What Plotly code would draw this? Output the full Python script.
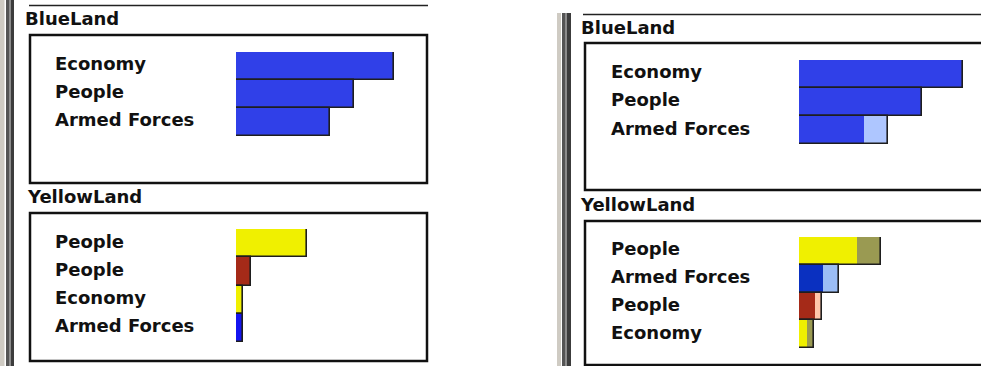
import plotly.graph_objects as go

# ---- data -------------------------------------------------------------
# Left window: single-segment bars
left_blue_labels = ["Economy", "People", "Armed Forces"]
left_blue_values = [79, 59, 47]

left_yellow_labels = ["People", "People", "Economy", "Armed Forces"]
left_yellow_values = [35.5, 7.5, 3.5, 3.5]

# Right window: each bar has a main part and an extra (lighter) part
right_blue_labels = ["Economy", "People", "Armed Forces"]
right_blue_main = [82, 61.5, 32.5]
right_blue_extra = [0, 0, 12]

right_yellow_labels = ["People", "Armed Forces", "People", "Economy"]
right_yellow_main = [29, 12, 8, 4]
right_yellow_extra = [12, 8, 3.5, 3.5]

# ---- styles -----------------------------------------------------------
W, H = 981, 366
BLUE = "#3040E8"
LIGHT_BLUE = "#AEC6FF"
YELLOW = "#F0F000"
OLIVE = "#9A9A52"
DARK_BLUE = "#0A30C0"
SKY = "#9BBDF5"
RED = "#A52A18"
PEACH = "#FFC6AA"
PURE_BLUE = "#1414F0"
OUTLINE = "#1E1E1E"
FONT = "DejaVu Sans"
PX_PER_UNIT = 2.0

left_blue_colors = [BLUE, BLUE, BLUE]
left_yellow_colors = [YELLOW, RED, YELLOW, PURE_BLUE]
right_blue_main_colors = [BLUE, BLUE, BLUE]
right_blue_extra_colors = [LIGHT_BLUE, LIGHT_BLUE, LIGHT_BLUE]
right_yellow_main_colors = [YELLOW, DARK_BLUE, RED, YELLOW]
right_yellow_extra_colors = [OLIVE, SKY, PEACH, OLIVE]


def px_x(x):
    return x / W


def px_y(y):
    return 1 - y / H


fig = go.Figure()

panels = [
    # (labels, main, extra, main colours, extra colours, bar left, axis right, top px, bottom px, label x)
    (left_blue_labels, left_blue_values, [0] * 3, left_blue_colors, left_blue_colors,
     236, 420, 52, 136, 53),
    (left_yellow_labels, left_yellow_values, [0] * 4, left_yellow_colors, left_yellow_colors,
     236, 420, 229, 342, 53),
    (right_blue_labels, right_blue_main, right_blue_extra, right_blue_main_colors,
     right_blue_extra_colors, 799, 975, 60, 144, 609),
    (right_yellow_labels, right_yellow_main, right_yellow_extra, right_yellow_main_colors,
     right_yellow_extra_colors, 799, 975, 237, 348, 609),
]

annotations = []
for i, (labels, main, extra, mcol, ecol, x0, x1, y0, y1, lx) in enumerate(panels):
    n = len(labels)
    rows = list(range(n))
    sfx = "" if i == 0 else str(i + 1)
    xa, ya = "x" + sfx, "y" + sfx
    totals = [m + e for m, e in zip(main, extra)]
    fig.add_trace(go.Bar(x=main, y=rows, base=[0] * n, orientation="h",
                         marker=dict(color=mcol, line=dict(width=0)),
                         xaxis=xa, yaxis=ya, width=1, showlegend=False))
    fig.add_trace(go.Bar(x=extra, y=rows, base=main, orientation="h",
                         marker=dict(color=ecol, line=dict(width=0)),
                         xaxis=xa, yaxis=ya, width=1, showlegend=False))
    fig.add_trace(go.Bar(x=totals, y=rows, base=[0] * n, orientation="h",
                         marker=dict(color="rgba(0,0,0,0)",
                                     line=dict(width=1.6, color=OUTLINE)),
                         xaxis=xa, yaxis=ya, width=1, showlegend=False))
    fig.update_layout({
        "xaxis" + sfx: dict(domain=[px_x(x0), px_x(x1)],
                            range=[0, (x1 - x0) / PX_PER_UNIT], visible=False,
                            fixedrange=True, anchor=ya),
        "yaxis" + sfx: dict(domain=[px_y(y1), px_y(y0)], range=[n - 0.5, -0.5],
                            visible=False, fixedrange=True, anchor=xa),
    })
    for r, lab in zip(rows, labels):
        annotations.append(dict(text="<b>" + lab + "</b>", xref="paper", x=px_x(lx),
                                xanchor="left", yref=ya, y=r, yanchor="middle",
                                yshift=2, showarrow=False,
                                font=dict(family=FONT, size=18, color="#111111")))

# panel titles
for text, tx, ty in [("BlueLand", 23, 19), ("YellowLand", 25, 196),
                     ("BlueLand", 579, 28), ("YellowLand", 578, 205)]:
    annotations.append(dict(text="<b>" + text + "</b>", xref="paper", yref="paper",
                            x=px_x(tx), y=px_y(ty), xanchor="left", yanchor="middle",
                            showarrow=False,
                            font=dict(family=FONT, size=18, color="#111111")))

shapes = []


def rect(x0, y0, x1, y1, **kw):
    shapes.append(dict(type="rect", xref="paper", yref="paper",
                       x0=px_x(x0), x1=px_x(x1), y0=px_y(y1), y1=px_y(y0), **kw))


def hline(x0, x1, y, width, color):
    shapes.append(dict(type="line", xref="paper", yref="paper",
                       x0=px_x(x0), x1=px_x(x1), y0=px_y(y), y1=px_y(y),
                       line=dict(color=color, width=width)))


# window frame stripes
for (a, b, c) in [(0, 4.5, "#CFCBC3"), (6, 9, "#555555"), (9, 11, "#8C8C8C"),
                  (11, 14, "#3C3C3C")]:
    rect(a, 0, b, H, fillcolor=c, line=dict(width=0), layer="below")
for (a, b, c) in [(557, 561, "#CFCBC3"), (562, 565, "#555555"), (565, 567, "#8C8C8C"),
                  (567, 571, "#3C3C3C")]:
    rect(a, 13, b, H, fillcolor=c, line=dict(width=0), layer="below")

# separator lines at the top of each window
hline(29, 428, 5.5, 1.5, "#222222")
hline(583, 985, 14.5, 1.5, "#222222")

# panel boxes
box = dict(line=dict(color="#111111", width=2.5), fillcolor="rgba(0,0,0,0)", layer="below")
rect(30, 35, 427, 183, **box)
rect(30, 213, 427, 361, **box)
rect(585, 43, 990, 190, **box)
rect(585, 221, 990, 365, **box)

fig.update_layout(width=W, height=H, margin=dict(l=0, r=0, t=0, b=0),
                  paper_bgcolor="white", plot_bgcolor="rgba(0,0,0,0)",
                  barmode="overlay", bargap=0, annotations=annotations, shapes=shapes,
                  showlegend=False)

fig.write_html("out.html", config={"displayModeBar": False})
